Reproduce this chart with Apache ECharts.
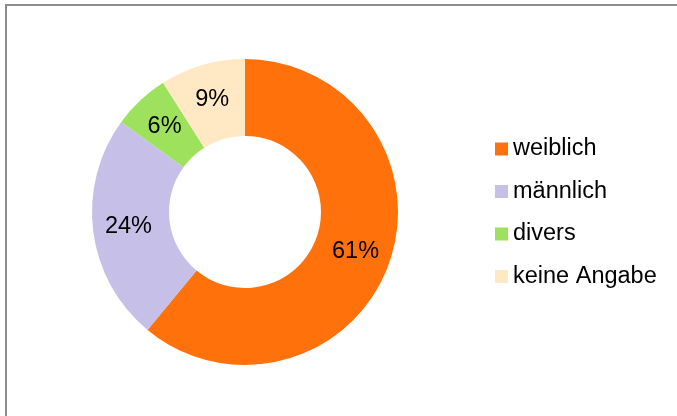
<!DOCTYPE html>
<html>
<head>
<meta charset="utf-8">
<script src="https://cdn.jsdelivr.net/npm/echarts@6/dist/echarts.min.js"></script>
<style>
  html, body { margin: 0; padding: 0; background: #fff; overflow: hidden; }
  #chart { width: 677px; height: 416px; }
</style>
</head>
<body>
<div id="chart"></div>
<script>
// Daten
const categories = ["weiblich", "männlich", "divers", "keine Angabe"];
const values = [61, 24, 6, 9];
const colors = ["#FF710B", "#C6BFE7", "#9DE15D", "#FFE8C3"];

const chart = echarts.init(document.getElementById("chart"));

const pieData = categories.map((name, i) => ({
  name: name,
  value: values[i],
  itemStyle: { color: colors[i] },
}));

const option = {
  animation: false,
  textStyle: { fontFamily: "Liberation Sans, Arial, sans-serif" },
  graphic: [
    {
      type: "rect",
      shape: { x: 6, y: 5, width: 720, height: 460 },
      style: { fill: "none", stroke: "#8c8c8c", lineWidth: 2 },
    },
  ],
  legend: {
    orient: "vertical",
    left: 490,
    top: 132,
    itemWidth: 13,
    itemHeight: 13,
    itemGap: 18.5,
    icon: "rect",
    textStyle: { fontSize: 23.5, color: "#000" },
    data: categories,
  },
  series: [
    {
      type: "pie",
      center: [245, 212],
      radius: [76, 153],
      startAngle: 90,
      clockwise: true,
      avoidLabelOverlap: false,
      label: {
        show: true,
        position: "inside",
        formatter: "{c}%",
        fontSize: 23.5,
        color: "#000",
        padding: [3, 0, 0, 0],
      },
      labelLine: { show: false },
      emphasis: { disabled: true },
      data: pieData,
    },
  ],
};

chart.setOption(option);
</script>
</body>
</html>
